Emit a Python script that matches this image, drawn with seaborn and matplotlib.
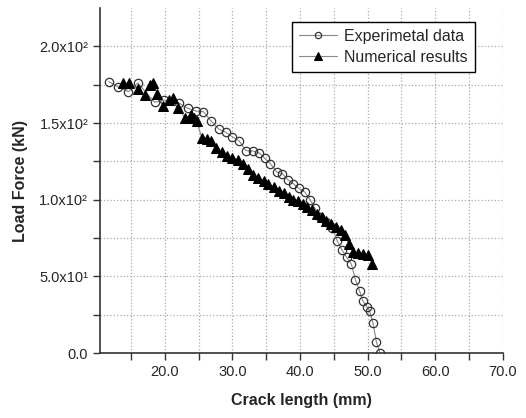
import numpy as np
import pandas as pd
import matplotlib
matplotlib.use('Agg')
import matplotlib.pyplot as plt
from matplotlib.ticker import FixedLocator, FixedFormatter
import seaborn as sns

# datos
exp_x = [11.7, 13.1, 14.6, 16.0, 18.5, 19.9, 22.1, 23.4, 24.6, 25.7, 26.9, 28.0,
         29.0, 30.0, 31.0, 32.0, 33.0, 34.0, 34.8, 35.6, 36.6, 37.4, 38.2, 39.0,
         39.8, 40.7, 41.5, 42.2, 43.0, 43.9, 44.8, 45.5, 46.2, 46.9, 47.6, 48.2,
         48.8, 49.3, 49.9, 50.3, 50.8, 51.3, 51.8]
exp_y = [177, 173.5, 170.4, 176, 163.5, 165, 163, 159.6, 157.8, 157.4, 151, 146,
         144, 141, 138.3, 132, 131.8, 130.5, 127, 123.5, 118, 117, 113, 110.5,
         107.5, 105, 100, 94.5, 89, 85.7, 81.4, 73.2, 67.3, 62.5, 58, 47.8,
         40.6, 34, 30, 27.5, 19.5, 7.2, 0.4]

num_x = [13.8, 14.7, 16.0, 17.0, 17.8, 18.3, 18.9, 19.8, 20.6, 21.2, 22.0, 23.0,
         23.8, 24.3, 24.7, 25.5, 26.2, 26.9, 27.6, 28.4, 29.2, 30.0, 30.8, 31.6,
         32.3, 33.1, 33.8, 34.6, 35.3, 36.1, 36.9, 37.6, 38.3, 39.0, 39.7, 40.4,
         41.1, 41.8, 42.5, 43.2, 43.9, 44.6, 45.3, 46.0, 46.7, 47.2, 47.9, 48.6,
         49.3, 50.0, 50.7]
num_y = [176, 176, 172, 168, 175, 176, 169, 161, 165, 166, 160, 153,
         155, 153, 151, 140, 139.5, 138, 134, 131, 128.5, 127.5, 126, 123,
         120, 116, 114.5, 112.5, 110, 108, 106, 104.5, 102, 100, 99, 97,
         95, 93, 91, 88.5, 86, 84, 82.5, 80, 77, 71, 66, 65,
         64.5, 64, 58]

x_ticks = [20, 30, 40, 50, 60, 70]
x_labels = ['20.0', '30.0', '40.0', '50.0', '60.0', '70.0']
y_ticks = [0, 50, 100, 150, 200]
y_labels = ['0.0', '5.0x10\u00b9', '1.0x10\u00b2', '1.5x10\u00b2', '2.0x10\u00b2']

df_exp = pd.DataFrame({'x': exp_x, 'y': exp_y})
df_num = pd.DataFrame({'x': num_x, 'y': num_y})

sns.set_style('ticks')
plt.rcParams['font.family'] = ['Liberation Sans', 'DejaVu Sans']

fig = plt.figure(figsize=(5.26, 4.18), dpi=100)
ax = fig.add_axes([0.190, 0.155, 0.766, 0.826])

sns.lineplot(data=df_exp, x='x', y='y', ax=ax, color='#888888', linewidth=0.8,
             marker='o', markersize=6, markerfacecolor='none',
             markeredgecolor='#333333', markeredgewidth=0.9,
             sort=False, label='Experimetal data')
sns.lineplot(data=df_num, x='x', y='y', ax=ax, color='#888888', linewidth=0.8,
             marker='^', markersize=7, markerfacecolor='black',
             markeredgecolor='black', sort=False, label='Numerical results')

ax.set_xlim(10.4, 70)
ax.set_ylim(0, 225)
ax.xaxis.set_major_locator(FixedLocator(x_ticks))
ax.xaxis.set_major_formatter(FixedFormatter(x_labels))
ax.xaxis.set_minor_locator(FixedLocator([15, 25, 35, 45, 55, 65]))
ax.yaxis.set_major_locator(FixedLocator(y_ticks))
ax.yaxis.set_major_formatter(FixedFormatter(y_labels))
ax.yaxis.set_minor_locator(FixedLocator([25, 75, 125, 175]))

ax.tick_params(which='both', direction='out', length=5, width=1, labelsize=10.5, color='#333333')
ax.grid(which='both', linestyle=':', color='#aaaaaa', linewidth=0.9)

for s in ['top', 'right']:
    ax.spines[s].set_visible(False)
for s in ['left', 'bottom']:
    ax.spines[s].set_linewidth(1.2)
    ax.spines[s].set_color('#333333')

ax.set_xlabel('Crack length (mm)', fontsize=11.5, fontweight='bold', labelpad=10)
ax.set_ylabel('Load Force (kN)', fontsize=11.5, fontweight='bold', labelpad=8)

leg = ax.legend(loc='upper right', bbox_to_anchor=(0.93, 0.96), borderaxespad=0,
                fontsize=11.5, frameon=True, fancybox=False, edgecolor='black',
                framealpha=1, handlelength=2.4, handletextpad=0.4, markerscale=0.75,
                borderpad=0.45, labelspacing=0.35)
leg.get_frame().set_linewidth(1.0)

plt.savefig('out.png', dpi=100)
